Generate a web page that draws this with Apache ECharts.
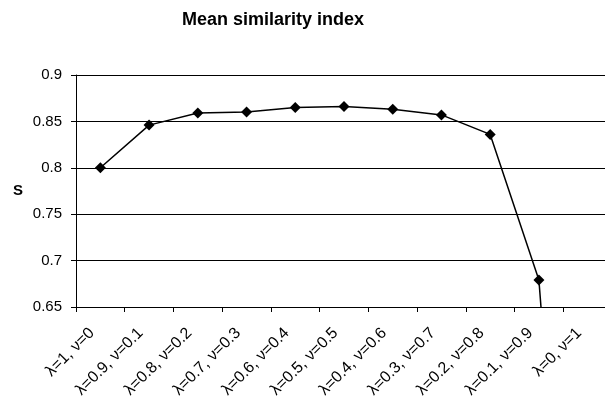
<!DOCTYPE html>
<html>
<head>
<meta charset="utf-8">
<script src="https://cdn.jsdelivr.net/npm/echarts@6/dist/echarts.min.js"></script>
<style>
  html, body { margin: 0; padding: 0; background: #fff; }
  #chart { width: 605px; height: 407px; }
</style>
</head>
<body>
<div id="chart"></div>
<script>
// categories along the x axis
var categories = [
  "λ=1, ν=0", "λ=0.9, ν=0.1", "λ=0.8, ν=0.2", "λ=0.7, ν=0.3",
  "λ=0.6, ν=0.4", "λ=0.5, ν=0.5", "λ=0.4, ν=0.6", "λ=0.3, ν=0.7",
  "λ=0.2, ν=0.8", "λ=0.1, ν=0.9", "λ=0, ν=1"
];
// mean similarity S (last one falls far below the axis)
var sValues = [0.800, 0.846, 0.859, 0.860, 0.865, 0.866, 0.863, 0.857, 0.836, 0.679, 0];

var chart = echarts.init(document.getElementById("chart"));
var fontName = "Liberation Sans, Arial, sans-serif";

chart.setOption({
  backgroundColor: "#fff",
  animation: false,
  title: {
    text: "Mean similarity index",
    left: 177,
    top: 6,
    textStyle: { fontFamily: fontName, fontSize: 18, fontWeight: "bold", color: "#000" }
  },
  grid: {
    left: 76,
    top: 75,
    width: 536,
    height: 232,
    outerBoundsMode: "none",
    containLabel: false
  },
  xAxis: {
    type: "category",
    data: categories,
    boundaryGap: true,
    axisLine: { lineStyle: { color: "#000", width: 1 } },
    axisTick: { show: true, length: 5, lineStyle: { color: "#000" } },
    axisLabel: {
      rotate: 45,
      interval: 0,
      margin: 15,
      padding: [0, 12, 0, 0],
      fontFamily: fontName,
      fontSize: 16,
      color: "#000"
    },
    splitLine: { show: false }
  },
  yAxis: {
    type: "value",
    min: 0.65,
    max: 0.9,
    interval: 0.05,
    name: "S",
    nameLocation: "middle",
    nameRotate: 0,
    nameGap: 53,
    nameTextStyle: { fontFamily: fontName, fontSize: 15, fontWeight: "bold", color: "#000" },
    axisLine: { show: true, lineStyle: { color: "#000", width: 1 } },
    axisTick: { show: true, length: 5, lineStyle: { color: "#000" } },
    axisLabel: {
      margin: 14,
      fontFamily: fontName,
      fontSize: 15,
      color: "#000",
      formatter: function (v) { return String(+v.toFixed(2)); }
    },
    splitLine: { show: true, lineStyle: { color: "#000", width: 1 } }
  },
  series: [{
    name: "S",
    type: "line",
    data: sValues,
    clip: true,
    symbol: "diamond",
    symbolSize: 11,
    itemStyle: { color: "#000" },
    lineStyle: { color: "#000", width: 1.5 }
  }]
});
</script>
</body>
</html>
